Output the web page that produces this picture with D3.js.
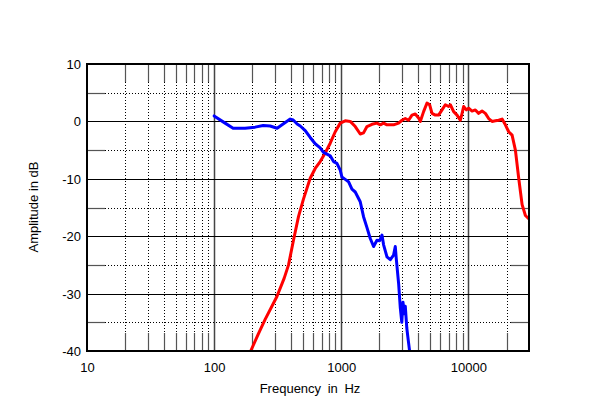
<!DOCTYPE html>
<html>
<head>
<meta charset="utf-8">
<script src="https://cdn.jsdelivr.net/npm/d3@7"></script>
<style>
  html, body { margin: 0; padding: 0; background: #fff; }
  svg { display: block; }
  text { font-family: "Liberation Sans", Arial, sans-serif; fill: #000; }
</style>
</head>
<body>
<svg id="chart" width="600" height="419"></svg>
<script>
// ---- data ----
const xTickValues = [10, 100, 1000, 10000];
const xTickLabels = ["10", "100", "1000", "10000"];
const yTickValues = [10, 0, -10, -20, -30, -40];
const yTickLabels = ["10", "0", "-10", "-20", "-30", "-40"];

const blueFreq = [100, 122, 141, 175, 210, 243, 276, 313, 349, 397, 419, 450, 476, 521, 570, 624, 683, 725, 772, 819, 870, 925, 982, 1013, 1075, 1141, 1214, 1289, 1411, 1498, 1594, 1692, 1797, 1910, 2003, 2092, 2154, 2290, 2432, 2581, 2662, 2712, 2827, 2915, 2995, 3061, 3134, 3191, 3279, 3370, 3450];
const blueDb   = [0.95, -0.3, -1.2, -1.2, -1.0, -0.7, -0.8, -1.2, -0.45, 0.4, 0.25, -0.45, -0.8, -1.6, -2.8, -3.9, -4.6, -5.4, -5.7, -6.0, -7.0, -7.3, -8.5, -9.7, -10.1, -10.5, -11.8, -12.3, -14.0, -16.6, -18.5, -20.4, -21.8, -20.7, -20.8, -19.8, -21.5, -23.6, -24.1, -23.3, -21.8, -24.0, -28.2, -32.5, -35.0, -31.5, -33.5, -32.2, -36.0, -38.2, -40.0];

const redFreq = [194, 222, 252, 312, 356, 385, 421, 461, 505, 570, 624, 683, 748, 819, 897, 982, 1075, 1177, 1289, 1411, 1498, 1594, 1745, 1910, 2028, 2154, 2290, 2581, 2827, 3006, 3191, 3388, 3603, 3824, 4061, 4188, 4446, 4729, 4959, 5179, 5498, 5837, 6207, 6591, 6997, 7218, 7662, 8147, 8650, 8924, 9183, 9645, 10055, 10694, 11353, 12055, 12820, 13614, 14447, 15366, 16315, 17325, 18425, 19558, 20767, 22084, 23450, 24900, 26480, 28110, 30000];
const redDb   = [-40, -37.1, -34.5, -30.5, -27.3, -25.0, -20.7, -16.6, -13.5, -9.9, -8.2, -7.0, -5.5, -3.8, -1.8, -0.3, 0.1, 0.0, -0.9, -2.2, -2.0, -0.9, -0.5, -0.3, -0.6, -0.3, -0.6, -0.6, -0.3, 0.2, 0.5, 0.2, 1.1, 1.3, 0.6, 0.0, 1.7, 3.2, 2.9, 1.4, 1.1, 1.1, 2.0, 2.9, 2.6, 2.9, 1.7, 1.1, 0.2, 1.4, 2.6, 2.0, 2.3, 1.8, 2.0, 1.4, 1.8, 1.4, 0.5, 0.0, 0.1, 0.2, 0.4, -0.6, -1.8, -2.4, -5.0, -9.9, -14.5, -16.4, -17.0];

// ---- layout ----
const svg = d3.select("#chart");
const L = 87, T = 64, W = 442, H = 287;
const x = d3.scaleLog().domain([10, 30000]).range([L, L + W]);
const y = d3.scaleLinear().domain([-40, 10]).range([T + H, T]);
const tickLen = 18;

const grid = svg.append("g");

// vertical grid
const minorFreqs = [];
[10, 100, 1000, 10000].forEach(d => {
  for (let k = 2; k <= 9; k++) { const f = k * d; if (f < 30000) minorFreqs.push(f); }
});
minorFreqs.forEach(f => {
  const xx = Math.round(x(f)) + 0.5;
  grid.append("line").attr("x1", xx).attr("x2", xx).attr("y1", T).attr("y2", T + H)
    .attr("stroke", "#000").attr("stroke-width", 1).attr("stroke-dasharray", "1,2");
  grid.append("line").attr("x1", xx).attr("x2", xx).attr("y1", T).attr("y2", T + tickLen)
    .attr("stroke", "#555").attr("stroke-width", 1.2);
  grid.append("line").attr("x1", xx).attr("x2", xx).attr("y1", T + H - tickLen).attr("y2", T + H)
    .attr("stroke", "#555").attr("stroke-width", 1.2);
});
[100, 1000, 10000].forEach(f => {
  const xx = Math.round(x(f)) + 0.5;
  grid.append("line").attr("x1", xx).attr("x2", xx).attr("y1", T).attr("y2", T + H)
    .attr("stroke", "#444").attr("stroke-width", 1.5);
});

// horizontal grid
[0, -10, -20, -30].forEach(v => {
  const yy = Math.round(y(v)) + 0.5;
  grid.append("line").attr("x1", L).attr("x2", L + W).attr("y1", yy).attr("y2", yy)
    .attr("stroke", "#000").attr("stroke-width", 1);
});
[5, -5, -15, -25, -35].forEach(v => {
  const yy = Math.round(y(v)) + 0.5;
  grid.append("line").attr("x1", L).attr("x2", L + W).attr("y1", yy).attr("y2", yy)
    .attr("stroke", "#000").attr("stroke-width", 1).attr("stroke-dasharray", "1,2");
  grid.append("line").attr("x1", L).attr("x2", L + tickLen).attr("y1", yy).attr("y2", yy)
    .attr("stroke", "#555").attr("stroke-width", 1.2);
  grid.append("line").attr("x1", L + W - tickLen).attr("x2", L + W).attr("y1", yy).attr("y2", yy)
    .attr("stroke", "#555").attr("stroke-width", 1.2);
});

// curves
const line = d3.line().x(d => x(d[0])).y(d => y(d[1])).curve(d3.curveLinear);
const redData = redFreq.map((f, i) => [f, redDb[i]]);
const blueData = blueFreq.map((f, i) => [f, blueDb[i]]);
svg.append("defs").append("clipPath").attr("id", "clip")
  .append("rect").attr("x", L).attr("y", T).attr("width", W).attr("height", H);
const curves = svg.append("g").attr("clip-path", "url(#clip)");
curves.append("path").datum(redData).attr("d", line)
  .attr("fill", "none").attr("stroke", "#ff0000").attr("stroke-width", 3)
  .attr("stroke-linejoin", "round").attr("stroke-linecap", "round");
curves.append("path").datum(blueData).attr("d", line)
  .attr("fill", "none").attr("stroke", "#0000ff").attr("stroke-width", 3)
  .attr("stroke-linejoin", "round").attr("stroke-linecap", "round");

// frame
svg.append("rect").attr("x", L).attr("y", T).attr("width", W).attr("height", H)
  .attr("fill", "none").attr("stroke", "#000").attr("stroke-width", 2);

// axes labels
const xAxis = d3.axisBottom(x).tickValues(xTickValues).tickFormat((d, i) => xTickLabels[i]).tickSize(0).tickPadding(0);
const gx = svg.append("g").attr("transform", `translate(0,${T + H})`).call(xAxis);
gx.select(".domain").remove();
gx.selectAll("text").attr("y", 21).attr("dy", 0).style("font-size", "13px")
  .style("font-family", "Liberation Sans, Arial, sans-serif").attr("fill", "#000");

const yAxis = d3.axisLeft(y).tickValues(yTickValues).tickFormat((d, i) => yTickLabels[i]).tickSize(0).tickPadding(0);
const gy = svg.append("g").attr("transform", `translate(${L},0)`).call(yAxis);
gy.select(".domain").remove();
gy.selectAll("text").attr("x", -6).attr("dy", "0.35em").style("font-size", "13px")
  .style("font-family", "Liberation Sans, Arial, sans-serif").attr("fill", "#000");

svg.append("text").attr("x", 310).attr("y", 393).attr("text-anchor", "middle")
  .style("font-size", "13px").style("word-spacing", "3px").text("Frequency in Hz");
svg.append("text").attr("transform", "translate(38,207) rotate(-90)").attr("text-anchor", "middle")
  .style("font-size", "13px").text("Amplitude in dB");
</script>
</body>
</html>
